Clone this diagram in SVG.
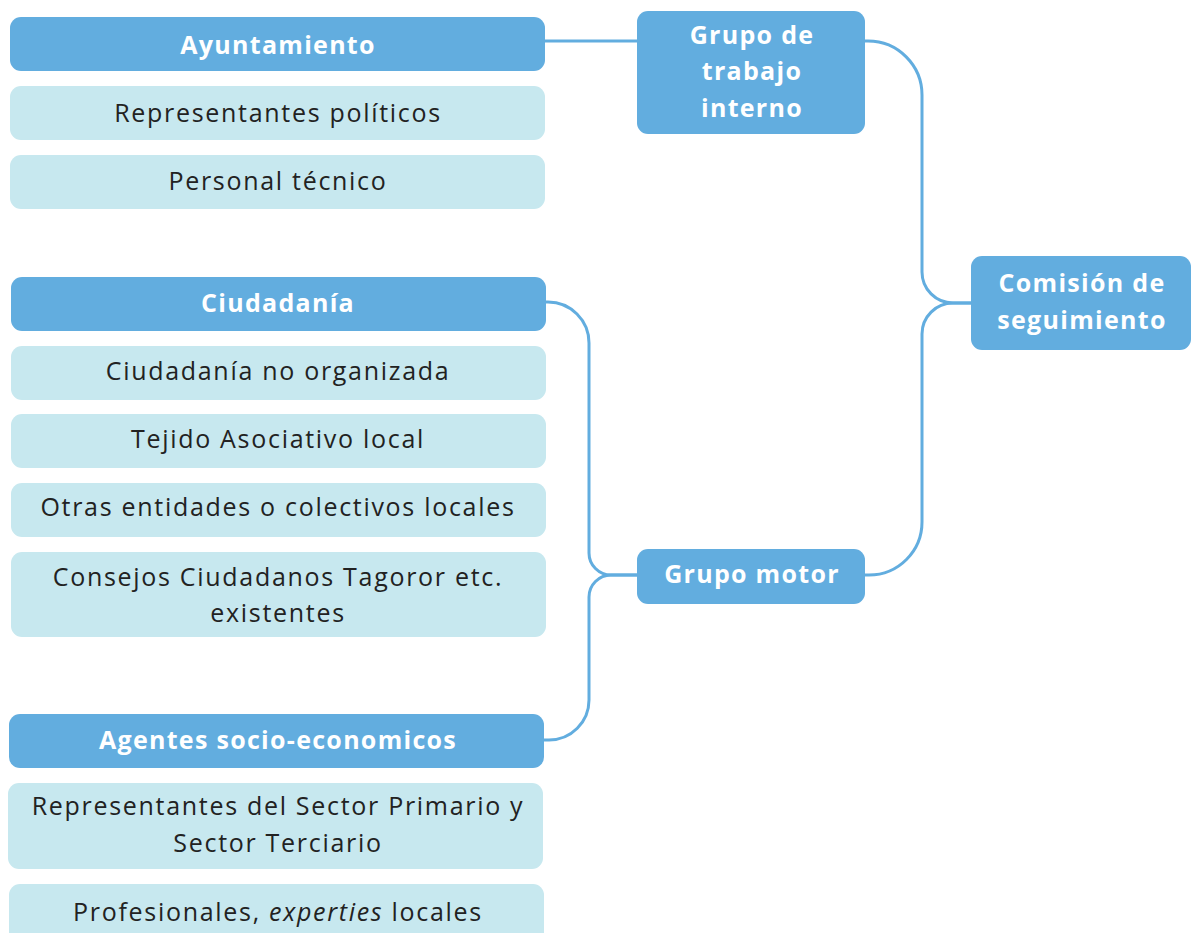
<svg xmlns="http://www.w3.org/2000/svg" width="1192" height="933" viewBox="0 0 1192 933">
<style>
.main{fill:#62ADDF}
.sub{fill:#C7E8EF}
.tm{font-family:"Open Sans","Liberation Sans",sans-serif;font-size:25px;font-weight:700;letter-spacing:1.3px;fill:#ffffff;text-anchor:middle}
.ts{font-family:"Open Sans","Liberation Sans",sans-serif;font-size:25px;letter-spacing:1.7px;fill:#222222;text-anchor:middle}
.conn{fill:none;stroke:#62ADDF;stroke-width:3}
</style>
<rect width="1192" height="933" fill="#ffffff"/>
<g id="connectors">
<path class="conn" d="M545,41 H637"/>
<path class="conn" d="M865,41 H868 A54,54 0 0 1 922,95 V272 A31,31 0 0 0 953,303 H971"/>
<path class="conn" d="M971,303 H953 A31,31 0 0 0 922,334 V522 A53,53 0 0 1 869,575 H865"/>
<path class="conn" d="M546,302 H548 A41,41 0 0 1 589,343 V553 A22,22 0 0 0 611,575 H637"/>
<path class="conn" d="M637,575 H611 A22,22 0 0 0 589,597 V700 A40,40 0 0 1 549,740 H544"/>
</g>
<g id="ayuntamiento"><rect class="main" x="10" y="17" width="535" height="54" rx="11"/><text class="tm" x="278" y="54">Ayuntamiento</text></g>
<g id="rep-politicos"><rect class="sub" x="10" y="86" width="535" height="54" rx="11"/><text class="ts" x="278" y="122">Representantes políticos</text></g>
<g id="personal-tecnico"><rect class="sub" x="10" y="155" width="535" height="54" rx="11"/><text class="ts" x="278" y="190">Personal técnico</text></g>
<g id="ciudadania"><rect class="main" x="11" y="277" width="535" height="54" rx="11"/><text class="tm" x="278" y="312">Ciudadanía</text></g>
<g id="ciud-no-org"><rect class="sub" x="11" y="346" width="535" height="54" rx="11"/><text class="ts" x="278" y="380">Ciudadanía no organizada</text></g>
<g id="tejido"><rect class="sub" x="11" y="414" width="535" height="54" rx="11"/><text class="ts" x="278" y="448">Tejido Asociativo local</text></g>
<g id="otras"><rect class="sub" x="11" y="483" width="535" height="54" rx="11"/><text class="ts" x="278" y="516">Otras entidades o colectivos locales</text></g>
<g id="consejos"><rect class="sub" x="11" y="552" width="535" height="85" rx="11"/><text class="ts" x="278" y="586">Consejos Ciudadanos Tagoror etc.</text><text class="ts" x="278" y="622">existentes</text></g>
<g id="agentes"><rect class="main" x="9" y="714" width="535" height="54" rx="11"/><text class="tm" x="278" y="749">Agentes socio-economicos</text></g>
<g id="sectores"><rect class="sub" x="8" y="783" width="535" height="86" rx="11"/><text class="ts" x="278" y="815">Representantes del Sector Primario y</text><text class="ts" x="278" y="852">Sector Terciario</text></g>
<g id="profesionales"><rect class="sub" x="9" y="884" width="535" height="60" rx="11"/><text class="ts" x="278" y="921">Profesionales, <tspan font-style="italic">experties</tspan> locales</text></g>
<g id="grupo-trabajo"><rect class="main" x="637" y="11" width="228" height="123" rx="11"/><text class="tm" x="752" y="44">Grupo de</text><text class="tm" x="752" y="80">trabajo</text><text class="tm" x="752" y="117">interno</text></g>
<g id="comision"><rect class="main" x="971" y="256" width="220" height="94" rx="11"/><text class="tm" x="1082" y="292">Comisión de</text><text class="tm" x="1082" y="329">seguimiento</text></g>
<g id="grupo-motor"><rect class="main" x="637" y="549" width="228" height="55" rx="11"/><text class="tm" x="752" y="583">Grupo motor</text></g>
</svg>
